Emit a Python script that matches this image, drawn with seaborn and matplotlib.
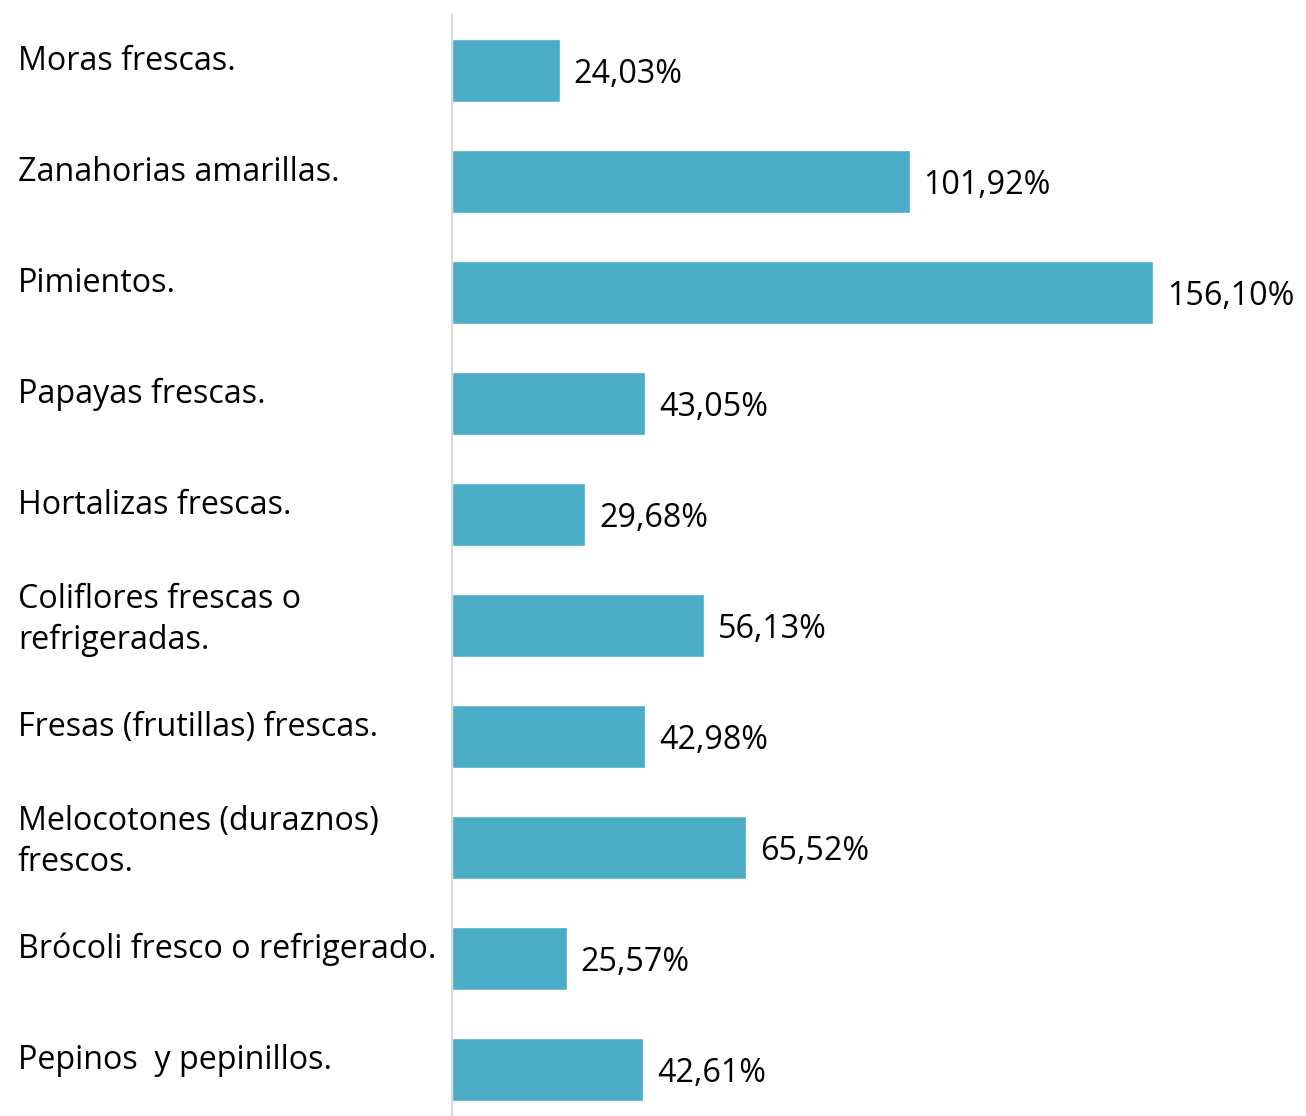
import matplotlib
matplotlib.use("Agg")
import matplotlib.pyplot as plt
import matplotlib.transforms as mtransforms
import seaborn as sns
import pandas as pd

categories = [
    "Moras frescas.",
    "Zanahorias amarillas.",
    "Pimientos.",
    "Papayas frescas.",
    "Hortalizas frescas.",
    "Coliflores frescas o\nrefrigeradas.",
    "Fresas (frutillas) frescas.",
    "Melocotones (duraznos)\nfrescos.",
    "Brócoli fresco o refrigerado.",
    "Pepinos  y pepinillos.",
]
values = [24.03, 101.92, 156.10, 43.05, 29.68, 56.13, 42.98, 65.52, 25.57, 42.61]
value_labels = ["24,03%", "101,92%", "156,10%", "43,05%", "29,68%",
                "56,13%", "42,98%", "65,52%", "25,57%", "42,61%"]

df = pd.DataFrame({"cat": categories, "val": values})

sns.set_theme(style="white")
plt.rcParams['font.family'] = ['Open Sans', 'DejaVu Sans']

fig = plt.figure(figsize=(13.06, 11.16), dpi=100)
ax = fig.add_axes([452/1306, 0, (1306-452)/1306, (1116-15)/1116])

sns.barplot(data=df, y="cat", x="val", orient="h", color="#4BACC6",
            saturation=1, width=0.565, ax=ax)

ax.set_xlim(0, 190.2)
ax.set_ylim(9.42, -0.5)
ax.set_xlabel("")
ax.set_ylabel("")
ax.set_xticks([])
ax.set_yticks([])
for s in ["top", "right", "bottom"]:
    ax.spines[s].set_visible(False)
ax.spines["left"].set_color("#D9D9D9")
ax.spines["left"].set_linewidth(1.5)

fs = 23.2
trans = mtransforms.blended_transform_factory(fig.transFigure, ax.transData)
for i, (cat, v, lab) in enumerate(zip(categories, values, value_labels)):
    dy = -0.05 if "\n" in cat else -0.08
    ax.text(18/1306, i + dy, cat, transform=trans, ha="left", va="center",
            fontsize=fs, color="black", linespacing=1.32)
    ax.annotate(lab, xy=(v, i), xytext=(10, -3), textcoords="offset points",
                ha="left", va="center", fontsize=fs, color="black")

fig.savefig("out.png", dpi=100)
